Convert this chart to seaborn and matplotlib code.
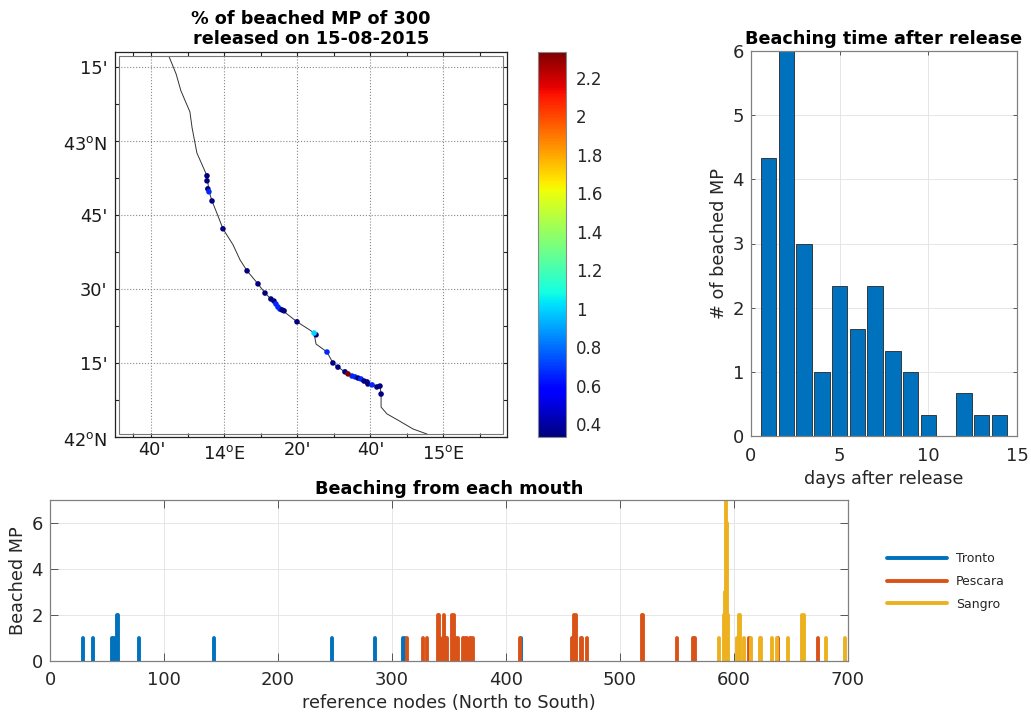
# Beached microplastics: map, beaching time and beaching per river mouth
import pandas as pd
import matplotlib
matplotlib.use('Agg')
import matplotlib.pyplot as plt
import seaborn as sns
from matplotlib.patches import Rectangle
from matplotlib.transforms import ScaledTranslation

# coastline
coast_lon = [13.747, 13.779, 13.801, 13.842, 13.852, 13.874, 13.920, 13.929, 13.943, 13.970,
             13.993, 14.039, 14.071, 14.103, 14.153, 14.185, 14.212, 14.240, 14.267, 14.331,
             14.390, 14.409, 14.418, 14.468, 14.495, 14.518, 14.564, 14.655, 14.674, 14.710,
             14.715, 14.715, 14.742, 14.792, 14.861, 14.925]
coast_lat = [43.284, 43.226, 43.169, 43.098, 43.044, 42.959, 42.882, 42.831, 42.797, 42.747,
             42.703, 42.649, 42.598, 42.561, 42.517, 42.486, 42.466, 42.443, 42.426, 42.389,
             42.361, 42.351, 42.314, 42.287, 42.250, 42.236, 42.213, 42.179, 42.176, 42.172,
             42.145, 42.101, 42.078, 42.057, 42.027, 42.010]

# % of beached MP per node
mp_lon = [13.920, 13.920, 13.924, 13.929, 13.943, 13.993, 14.103, 14.153, 14.185, 14.212,
          14.226, 14.235, 14.244, 14.253, 14.263, 14.272, 14.331, 14.418, 14.409, 14.468,
          14.495, 14.518, 14.550, 14.582, 14.596, 14.610, 14.623, 14.637, 14.651, 14.655,
          14.674, 14.696, 14.710, 14.715, 14.564]
mp_lat = [42.882, 42.865, 42.838, 42.828, 42.797, 42.703, 42.561, 42.517, 42.486, 42.466,
          42.459, 42.449, 42.439, 42.432, 42.429, 42.426, 42.389, 42.345, 42.351, 42.287,
          42.250, 42.236, 42.220, 42.206, 42.203, 42.199, 42.196, 42.189, 42.186, 42.179,
          42.176, 42.169, 42.172, 42.145, 42.213]
mp_pct = [0.333, 0.333, 0.333, 0.667, 0.333, 0.333, 0.333, 0.333, 0.333, 0.333,
          0.333, 0.667, 0.667, 0.667, 0.333, 0.333, 0.333, 0.333, 1.0, 0.667,
          0.333, 0.333, 0.333, 0.667, 0.667, 0.333, 0.667, 0.333, 0.333, 0.333,
          0.667, 0.333, 0.333, 0.333, 2.333]

# beaching time
days = [1, 2, 3, 4, 5, 6, 7, 8, 9, 10, 11, 12, 13, 14]
beached = [4.33, 6, 3, 1, 2.33, 1.67, 2.33, 1.33, 1, 0.33, 0, 0.67, 0.33, 0.33]

# beaching from each mouth
tronto_nodes = [29, 38, 54, 55, 57, 58, 59, 60, 78, 144, 247, 285, 310, 311, 413]
tronto_vals = [1, 1, 1, 1, 1, 1, 2, 2, 1, 1, 1, 1, 1, 1, 1]
pescara_nodes = [313, 327, 331, 340, 341, 342, 345, 346, 347, 348, 353, 354, 355, 356, 358,
                 362, 363, 365, 366, 368, 369, 371, 412, 458, 459, 460, 461, 466, 467, 471,
                 519, 520, 550, 564, 565, 566, 613, 639, 674]
pescara_vals = [1, 1, 1, 2, 2, 1, 1, 2, 1, 1, 2, 2, 1, 1, 1,
                1, 1, 1, 1, 1, 1, 1, 1, 1, 1, 2, 2, 1, 1, 1,
                2, 2, 1, 1, 1, 1, 1, 1, 1]
sangro_nodes = [587, 591, 592, 593, 594, 595, 603, 604, 605, 609, 615, 623, 624, 633, 638,
                647, 660, 661, 681, 697]
sangro_vals = [1, 2, 3, 7, 6, 2, 1, 2, 2, 1, 1, 1, 1, 1, 1,
               1, 2, 2, 1, 1]

W, H = 1031, 713


def place(x0, y0, x1, y1):
    # pixel box to figure fractions
    return [x0 / W, (H - y1) / H, (x1 - x0) / W, (y1 - y0) / H]


sns.set_theme(style='whitegrid')
plt.rcParams['font.family'] = ['DejaVu Sans']
plt.rcParams['text.color'] = '#262626'
plt.rcParams['axes.labelcolor'] = '#262626'
plt.rcParams['xtick.color'] = '#262626'
plt.rcParams['ytick.color'] = '#262626'

fig = plt.figure(figsize=(W / 100, H / 100), dpi=100)
ax_map = fig.add_axes(place(115, 52, 507, 437))
ax_cb = fig.add_axes(place(538, 52, 566, 437))
ax_bar = fig.add_axes(place(751, 51, 1017, 436))
ax_node = fig.add_axes(place(50, 500, 848, 661))

# map
sns.lineplot(x=coast_lon, y=coast_lat, sort=False, estimator=None, color='#333333', lw=0.7, ax=ax_map)
sns.scatterplot(x=mp_lon, y=mp_lat, hue=mp_pct, palette=plt.get_cmap('jet'), hue_norm=(0.333, 2.333),
                s=16, linewidth=0, legend=False, zorder=5, ax=ax_map)
ax_map.set_xlim(13.5, 15.29)
ax_map.set_ylim(42, 43.3)
ax_map.set_xticks([13 + 40 / 60, 14, 14 + 20 / 60, 14 + 40 / 60, 15])
ax_map.set_xticklabels(["40'", '14$^{\\mathrm{o}}$E', "20'", "40'", '15$^{\\mathrm{o}}$E'], fontsize=12.8, color='#1a1a1a')
ax_map.set_xticks([13 + 35 / 60, 13 + 50 / 60, 14 + 10 / 60, 14.5, 14 + 50 / 60, 15 + 10 / 60], minor=True)
ax_map.set_yticks([42, 42.25, 42.5, 42.75, 43, 43.25])
ax_map.set_yticklabels(['42$^{\\mathrm{o}}$N', "15'", "30'", "45'", '43$^{\\mathrm{o}}$N', "15'"], fontsize=12.8, color='#1a1a1a')
ax_map.set_yticks([42.125, 42.375, 42.625, 42.875, 43.125], minor=True)
ax_map.grid(True, which='major', linestyle=':', color='#888888', lw=0.8)
ax_map.grid(False, which='minor')
ax_map.tick_params(which='both', direction='in', length=3, width=0.8, color='#222222',
                   top=True, right=True, bottom=True, left=True, pad=5.5)
ax_map.tick_params(axis='x', which='major', pad=3)
# degree labels sit a bit lower than the minute labels
for lab in ax_map.get_xticklabels():
    if '$' in lab.get_text():
        lab.set_transform(lab.get_transform() + ScaledTranslation(0, -4 / 100, fig.dpi_scale_trans))
for lab in ax_map.get_yticklabels():
    if '$' in lab.get_text():
        lab.set_transform(lab.get_transform() + ScaledTranslation(0, -2 / 100, fig.dpi_scale_trans))
for s in ax_map.spines.values():
    s.set_color('#222222')
    s.set_linewidth(0.9)
ax_map.add_patch(Rectangle((4 / 392, 3.5 / 385), 1 - 8 / 392, 1 - 7 / 385, transform=ax_map.transAxes,
                           fill=False, ec='#777777', lw=0.8, zorder=4))
ax_map.set_title('% of beached MP of 300\nreleased on 15-08-2015', fontsize=12.7, fontweight='bold',
                 color='black', pad=6, linespacing=1.1)

# colorbar
sm = plt.cm.ScalarMappable(cmap='jet', norm=plt.Normalize(0.333, 2.333))
cb = fig.colorbar(sm, cax=ax_cb, ticks=[0.4, 0.6, 0.8, 1, 1.2, 1.4, 1.6, 1.8, 2, 2.2])
cb.ax.set_yticklabels(['0.4', '0.6', '0.8', '1', '1.2', '1.4', '1.6', '1.8', '2', '2.2'])
cb.ax.tick_params(direction='in', length=3, width=0.7, labelsize=12, color='#444444', pad=7)
cb.outline.set_edgecolor('#888888')
cb.outline.set_linewidth(0.8)

# beaching time
sns.barplot(x=days, y=beached, native_scale=True, color='#0072BD', saturation=1, width=0.87,
            edgecolor='#262626', linewidth=0.6, ax=ax_bar)
ax_bar.set_xlim(0, 15)
ax_bar.set_ylim(0, 6)
ax_bar.set_xticks([0, 5, 10, 15])
ax_bar.set_yticks([0, 1, 2, 3, 4, 5, 6])
ax_bar.set_xlabel('days after release', fontsize=12.7, labelpad=3.5)
ax_bar.set_ylabel('# of beached MP', fontsize=12.7, labelpad=3)
ax_bar.set_title('Beaching time after release', fontsize=12.7, fontweight='bold', color='black', pad=5)

# beaching from each mouth
rows = []
for mouth, nodes, vals in [('Tronto', tronto_nodes, tronto_vals),
                           ('Pescara', pescara_nodes, pescara_vals),
                           ('Sangro', sangro_nodes, sangro_vals)]:
    for n, v in zip(nodes, vals):
        rows.append({'mouth': mouth, 'stem': mouth + str(n), 'node': n, 'count': 0})
        rows.append({'mouth': mouth, 'stem': mouth + str(n), 'node': n, 'count': v})
df = pd.DataFrame(rows)
sns.lineplot(data=df, x='node', y='count', hue='mouth', units='stem', estimator=None, sort=False,
             palette=['#0072BD', '#D95319', '#EDB120'], lw=2.8, solid_capstyle='round', ax=ax_node)
ax_node.set_xlim(0, 700)
ax_node.set_ylim(0, 7)
ax_node.set_xticks([0, 100, 200, 300, 400, 500, 600, 700])
ax_node.set_yticks([0, 2, 4, 6])
ax_node.set_xlabel('reference nodes (North to South)', fontsize=12.7, labelpad=3.5)
ax_node.set_ylabel('Beached MP', fontsize=12.7, labelpad=3)
ax_node.set_title('Beaching from each mouth', fontsize=12.7, fontweight='bold', color='black', pad=4)
ax_node.legend(loc='center left', bbox_to_anchor=(876 / W, (H - 581.5) / H), bbox_transform=fig.transFigure,
               frameon=False, fontsize=9, handlelength=4.8, handletextpad=0.7, labelspacing=0.78)

for ax, tick_len, xpad in [(ax_bar, 3, 8), (ax_node, 5.8, 7)]:
    ax.grid(True, color='#e6e6e6', lw=0.7)
    ax.set_axisbelow(True)
    ax.tick_params(direction='in', length=tick_len, width=0.7, color='#555555', labelsize=13,
                   top=True, right=True, bottom=True, left=True, pad=5)
    ax.tick_params(axis='x', pad=xpad)
    for s in ax.spines.values():
        s.set_color('#808080')
        s.set_linewidth(0.9)

fig.savefig('out.png', dpi=100)
